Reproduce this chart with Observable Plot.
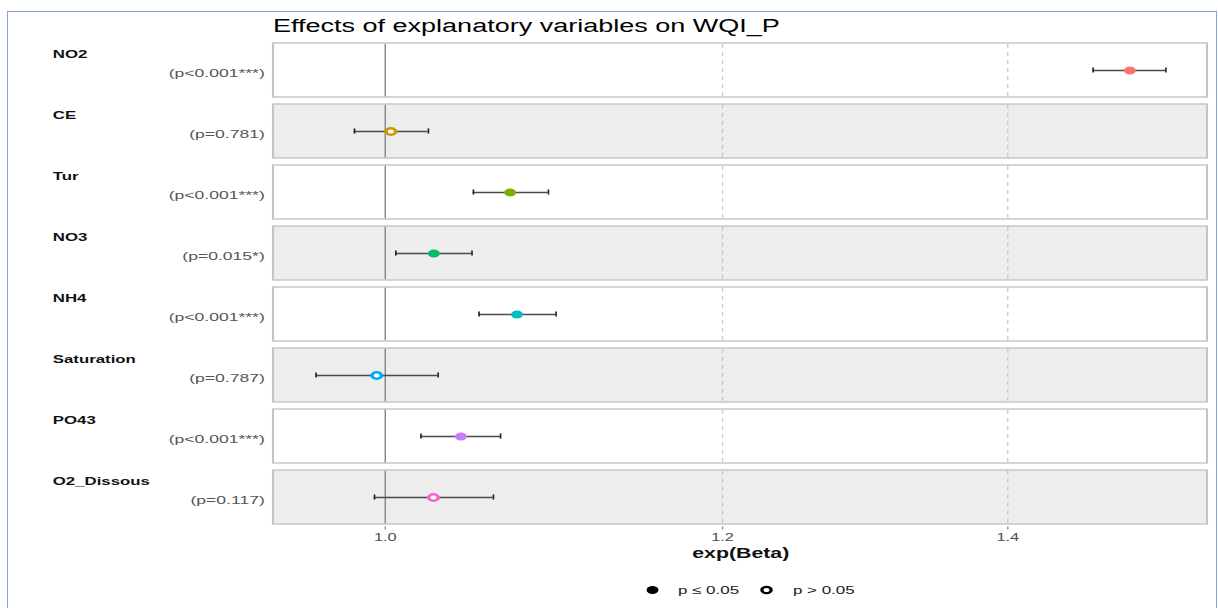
<!DOCTYPE html>
<html>
<head>
<meta charset="utf-8">
<script src="https://cdn.jsdelivr.net/npm/d3@7"></script>
<script src="https://cdn.jsdelivr.net/npm/@observablehq/plot@0.6"></script>
<style>
  html, body { margin: 0; padding: 0; background: #fff; overflow: hidden; }
  body { font-family: "Liberation Sans", Arial, sans-serif; width: 1218px; height: 608px; position: relative; }
  #frame { position: absolute; left: 7px; top: 11px; width: 1210px; height: 620px; border: 1px solid #86a5d9; border-bottom: none; box-sizing: border-box; }
  /* the whole figure is laid out at 812px and widened to 1218px */
  #stage { position: absolute; left: 0; top: 0; width: 812px; height: 608px; transform: scaleX(1.5); transform-origin: 0 0; }
  #title { position: absolute; left: 182px; top: 17px; font-size: 18px; line-height: 18px; color: #000; white-space: nowrap; }
  #chart { position: absolute; left: 0; top: 36px; }
  #legend { position: absolute; left: 0; top: 581px; width: 812px; height: 18px; font-size: 11.3px; color: #1a1a1a; }
  #legend .item { position: absolute; top: 0; height: 18px; display: flex; align-items: center; white-space: nowrap; }
  #legend svg { display: block; overflow: visible; }
</style>
</head>
<body>
<div id="frame"></div>
<div id="stage">
  <div id="title"></div>
  <div id="chart"></div>
  <div id="legend"></div>
</div>
<script>
// Explanatory variables, top to bottom
const variables = ["NO2", "CE", "Tur", "NO3", "NH4", "Saturation", "PO43", "O2_Dissous"];
// exp(Beta) estimates with 95% confidence limits
const estimate = [1.4955, 1.0030, 1.0698, 1.0266, 1.0738, 0.9954, 1.0417, 1.0264];
const lower    = [1.4661, 0.9835, 1.0488, 1.0057, 1.0520, 0.9633, 1.0195, 0.9942];
const upper    = [1.5249, 1.0236, 1.0922, 1.0480, 1.0967, 1.0290, 1.0643, 1.0602];
// p-values and their printed labels
const pValue = [0.001, 0.781, 0.001, 0.015, 0.001, 0.787, 0.001, 0.117];
const pLabel = ["(p<0.001***)", "(p=0.781)", "(p<0.001***)", "(p=0.015*)",
                "(p<0.001***)", "(p=0.787)", "(p<0.001***)", "(p=0.117)"];
// one hue per variable
const hues = ["#F8766D", "#CD9600", "#7CAE00", "#00BE67", "#00BFC4", "#00A9FF", "#C77CFF", "#FF61CC"];
// x axis
const xTicks = [1.0, 1.2, 1.4];
const xDomain = [0.9415, 1.5598];
const nullEffect = 1;
const titleText = "Effects of explanatory variables on WQI_P";
const xLabel = "exp(Beta)";
const legendLabels = ["p \u2264 0.05", "p > 0.05"];

const rows = variables.map((name, i) => ({
  name, i,
  estimate: estimate[i], lower: lower[i], upper: upper[i],
  p: pValue[i], pLabel: pLabel[i], hue: hues[i],
  sig: pValue[i] <= 0.05
}));

// per-panel vertical lines: dashed grid at the ticks, solid at the null effect
const grid = rows.flatMap(r => xTicks.filter(t => t !== nullEffect).map(t => ({name: r.name, t})));
const nullLines = rows.map(r => ({name: r.name, t: nullEffect}));

document.getElementById("title").textContent = titleText;

const chart = Plot.plot({
  width: 812,
  height: 530,
  marginTop: 5,
  marginBottom: 39.5,
  marginLeft: 182,
  marginRight: 7.33,
  style: {fontFamily: "'Liberation Sans', Arial, sans-serif", background: "transparent", overflow: "visible"},
  x: {type: "log", domain: xDomain, axis: null},
  y: {domain: variables, paddingInner: 0.107, paddingOuter: 0, axis: null},
  marks: [
    // alternating panel backgrounds
    Plot.barX(rows.filter(d => d.i % 2 === 0), {x1: xDomain[0], x2: xDomain[1], y: "name", fill: "#ffffff", stroke: "#c4c4c4", strokeWidth: 1.4}),
    Plot.barX(rows.filter(d => d.i % 2 === 1), {x1: xDomain[0], x2: xDomain[1], y: "name", fill: "#ededed", stroke: "#c4c4c4", strokeWidth: 1.4}),
    // dashed grid lines and the reference line at 1, each spanning its panel
    Plot.tickX(grid, {x: "t", y: "name", stroke: "#c8c8c8", strokeDasharray: "4,4", strokeWidth: 0.9, insetTop: 0.7, insetBottom: 0.7}),
    Plot.tickX(nullLines, {x: "t", y: "name", stroke: "#8a8a8a", strokeWidth: 1, insetTop: 0.7, insetBottom: 0.7}),
    // confidence intervals
    Plot.ruleY(rows, {y: "name", x1: "lower", x2: "upper", stroke: "#4a4a4a", strokeWidth: 1.3}),
    Plot.tickX(rows, {x: "lower", y: "name", insetTop: 24.4, insetBottom: 24.4, stroke: "#222", strokeWidth: 1.1}),
    Plot.tickX(rows, {x: "upper", y: "name", insetTop: 24.4, insetBottom: 24.4, stroke: "#222", strokeWidth: 1.1}),
    // estimates: filled when significant, open otherwise
    Plot.dot(rows.filter(d => d.sig), {x: "estimate", y: "name", r: 4, fill: d => d.hue, stroke: "none"}),
    Plot.dot(rows.filter(d => !d.sig), {x: "estimate", y: "name", r: 3.2, fill: "#ffffff", stroke: d => d.hue, strokeWidth: 2.4}),
    // row labels
    Plot.text(rows, {y: "name", text: "name", frameAnchor: "left", textAnchor: "start", dx: -147.3, dy: -16.5,
                     fontWeight: "bold", fontSize: 11.2, fill: "#111"}),
    Plot.text(rows, {y: "name", text: "pLabel", frameAnchor: "left", textAnchor: "end", dx: -6, dy: 2.5,
                     fontSize: 11.7, fill: "#555"}),
    // x axis
    Plot.axisX({ticks: xTicks, tickFormat: d => d.toFixed(1), tickSize: 3, tickPadding: 3,
                fontSize: 10.9, fill: "#4d4d4d", stroke: "#9a9a9a", label: null}),
    Plot.text([xLabel], {text: d => d, frameAnchor: "bottom", dy: 26.5, lineAnchor: "middle",
                         fontWeight: "bold", fontSize: 14.2, fill: "#111"})
  ]
});
document.getElementById("chart").appendChild(chart);

// legend for the point shapes
const legend = document.getElementById("legend");
const items = [
  {label: legendLabels[0], filled: true, x: 430.7},
  {label: legendLabels[1], filled: false, x: 507.3}
];
for (const it of items) {
  const div = document.createElement("div");
  div.className = "item";
  div.style.left = it.x + "px";
  const sym = d3.create("svg").attr("width", 8).attr("height", 8);
  sym.append("circle").attr("cx", 4).attr("cy", 4)
    .attr("r", it.filled ? 4 : 3.1)
    .attr("fill", it.filled ? "#000" : "#fff")
    .attr("stroke", it.filled ? "none" : "#000")
    .attr("stroke-width", it.filled ? 0 : 2.2);
  div.appendChild(sym.node());
  const span = document.createElement("span");
  span.textContent = it.label;
  span.style.marginLeft = "13.3px";
  div.appendChild(span);
  legend.appendChild(div);
}
</script>
</body>
</html>
